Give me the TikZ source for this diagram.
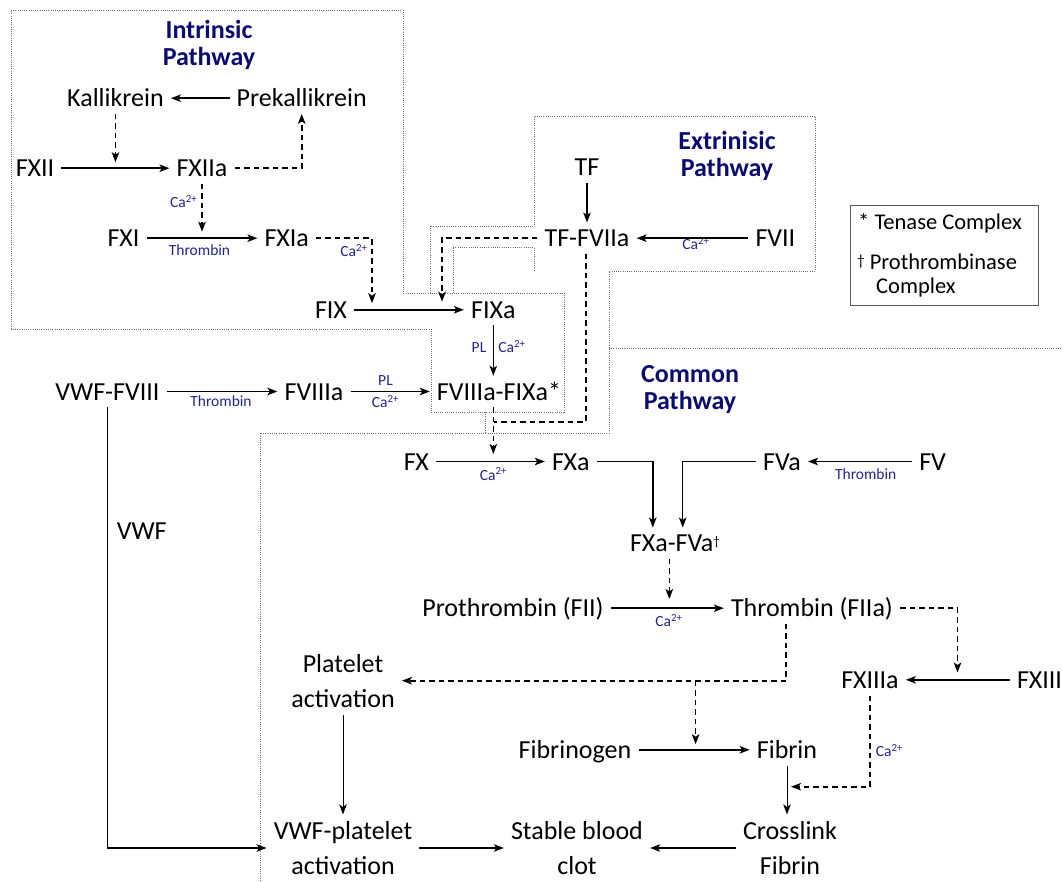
\documentclass[tikz,border=0pt]{standalone}
\usepackage{fontspec}
\setmainfont{Carlito}
\usetikzlibrary{arrows.meta}
\definecolor{navy}{RGB}{12,12,110}
\definecolor{lblue}{RGB}{35,35,140}
\definecolor{dotgray}{RGB}{110,110,110}
\definecolor{leggray}{RGB}{90,90,90}
\begin{document}
\begin{tikzpicture}[x=1pt,y=-1pt,
  every node/.style={inner xsep=7pt,inner ysep=7pt},
  fac/.style={font=\fontsize{26}{27}\selectfont,text height=17pt,text depth=0pt,anchor=base},
  two/.style={font=\fontsize{26}{34.5}\selectfont,align=center},
  ttl/.style={font=\fontsize{26}{27}\selectfont\bfseries,text=navy,align=center},
  tag/.style={font=\fontsize{15.5}{16}\selectfont,text=lblue,inner sep=0pt,anchor=base},
  legtxt/.style={font=\fontsize{22.5}{24}\selectfont,inner sep=0pt,anchor=base west},
  arr/.style={line width=1.5pt,-{Stealth[length=10pt,width=7.5pt,inset=2.5pt]}},
  arrthin/.style={line width=1pt,-{Stealth[length=10pt,width=7.5pt,inset=2.5pt]}},
  dsh/.style={line width=1.6pt,dash pattern=on 5.5pt off 4pt},
  darr/.style={dsh,-{Stealth[length=10pt,width=7.5pt,inset=2.5pt]}},
  region/.style={draw=dotgray,line width=0.8pt,dash pattern=on 0.9pt off 1.3pt},
]
\useasboundingbox (0,0) rectangle (1062,882);

% dotted regions
\draw[region] (11,329) -- (11,10) -- (403,10) -- (403,293) -- (564,293) -- (564,412) -- (431,412) -- (431,329) -- cycle;
\draw[region] (430,293) -- (430,226) -- (534,226) -- (534,116) -- (815,116) -- (815,271) -- (609,271) -- (609,433) -- (260,433) -- (260,882);
\draw[region] (453,293) -- (453,247) -- (534,247) -- (534,271);
\draw[region] (485,412) -- (485,433);
\draw[region] (609,348) -- (1062,348);

% titles
\node[ttl] (intr) at (209,45) {Intrinsic\\Pathway};
\node[ttl] (extr) at (727,156) {Extrinisic\\Pathway};
\node[ttl] (comm) at (690,390) {Common\\Pathway};

% factors
\node[fac] (kal) at (115.5,106.7) {Kallikrein};
\node[fac] (prek) at (301.7,106.7) {Prekallikrein};
\node[fac] (fxii) at (35,176.7) {FXII};
\node[fac] (fxiia) at (202,176.7) {FXIIa};
\node[fac] (fxi) at (123.5,246.7) {FXI};
\node[fac] (fxia) at (286.7,246.7) {FXIa};
\node[fac] (fix) at (331,318.3) {FIX};
\node[fac] (fixa) at (493.3,318.3) {FIXa};
\node[fac] (tf) at (587,176) {TF};
\node[fac] (tf7) at (587,246.7) {TF-FVIIa};
\node[fac] (f7) at (775.4,246.7) {FVII};
\node[fac] (vwf8) at (107.5,400) {VWF-FVIII};
\node[fac] (f8a) at (314,400) {FVIIIa};
\node[fac] (ten) at (499,400) {FVIIIa-FIXa*};
\node[fac] (vwflbl) at (141.7,539) {VWF};
\node[fac] (fx) at (416.4,470) {FX};
\node[fac] (fxa) at (570.8,470) {FXa};
\node[fac] (fva) at (782,470) {FVa};
\node[fac] (fv) at (932.6,470) {FV};
\node[fac] (fxxva) at (675,551.7) {FXa-FVa{\fontsize{13}{13}\selectfont\raisebox{6pt}{†}}};
\node[fac] (pro) at (513,616.7) {Prothrombin (FII)};
\node[fac] (thr) at (812,616.7) {Thrombin (FIIa)};
\node[fac] (f13a) at (870,688.3) {FXIIIa};
\node[fac] (f13) at (1039.5,688.3) {FXIII};
\node[fac] (fgn) at (575,758.3) {Fibrinogen};
\node[fac] (fib) at (787,758.3) {Fibrin};
\node[two] (plt) at (343,681.2) {Platelet\\activation};
\node[two] (vwfp) at (343,848) {VWF-platelet\\activation};
\node[two] (clot) at (577,848) {Stable blood\\clot};
\node[two] (xfib) at (790,848) {Crosslink\\Fibrin};

% legend
\node[draw=leggray,line width=1pt,minimum width=188pt,minimum height=100pt,inner sep=0pt] (legend) at (944,256) {};
\node[legtxt] (leg1) at (858,230) {* Tenase Complex};
\node[legtxt] (leg2) at (857,270) {{\fontsize{15}{15}\selectfont\raisebox{4pt}{†}} Prothrombinase};
\node[legtxt] (leg3) at (876,294) {Complex};

% blue labels
\node[tag] (c1) at (183.7,207.3) {Ca\textsuperscript{2+}};
\node[tag] (t1) at (199.5,255.7) {Thrombin};
\node[tag] (c2) at (354,256.7) {Ca\textsuperscript{2+}};
\node[tag] (p1) at (479,352.3) {PL};
\node[tag] (c3) at (512,352.3) {Ca\textsuperscript{2+}};
\node[tag] (t2) at (221,406.7) {Thrombin};
\node[tag] (p2) at (385.5,385) {PL};
\node[tag] (c4) at (385.5,407.7) {Ca\textsuperscript{2+}};
\node[tag] (c5) at (696,249.3) {Ca\textsuperscript{2+}};
\node[tag] (c6) at (493.4,480) {Ca\textsuperscript{2+}};
\node[tag] (t3) at (865.7,479.3) {Thrombin};
\node[tag] (c7) at (669,626.7) {Ca\textsuperscript{2+}};
\node[tag] (c8) at (889.5,756.7) {Ca\textsuperscript{2+}};

% helper coordinates
\coordinate (jix) at (372,309.7);
\coordinate (jfa) at (442,309.7);
\coordinate (jtv) at (585.7,421.7);
\coordinate (jtn) at (494,421.7);
\coordinate (ina) at (652.8,527);
\coordinate (inb) at (682.7,527);
\coordinate (jp) at (669.3,610);
\coordinate (j13) at (957.5,680.5);
\coordinate (jpl) at (786,680.7);
\coordinate (jbr) at (695.6,680.7);
\coordinate (jfb) at (695.6,751.7);
\coordinate (jxf) at (787,786.7);

% intrinsic
\draw[arr] (prek.west) -- (kal.east);
\draw[darr,shorten >=6pt] (kal.south) -- (kal.south |- fxii.east);
\draw[arr] (fxii.east) -- (fxiia.west);
\draw[darr] (fxiia.east) -| (prek.south);
\draw[darr,shorten >=6.5pt] (fxiia.south) -- (fxiia.south |- fxi.east);
\draw[arr] (fxi.east) -- (fxia.west);
\draw[darr,shorten >=6.5pt] (fxia.east) -| (jix);
\draw[arr] (fix.east) -- (fixa.west);
\draw[arr] (fixa.south) -- (fixa.south |- ten.north);
% VWF / FVIII
\draw[arr] (vwf8.east) -- (f8a.west);
\draw[arr] (f8a.east) -- (ten.west);
\draw[arr] (vwf8.south) |- (vwfp.west);
% extrinsic
\draw[arr] (tf.south) -- (tf.south |- tf7.north);
\draw[arr] (f7.west) -- (tf7.east);
\draw[darr,shorten >=8pt] (tf7.west) -| (jfa);
\draw[dsh] (jtv |- tf7.south) -- (jtv) -- (jtn);
\draw[darr,shorten >=7.5pt] (fixa.south |- ten.south) -- (fixa.south |- fx.east);
% common
\draw[arr] (fx.east) -- (fxa.west);
\draw[arr] (fv.west) -- (fva.east);
\draw[arr] (fxa.east) -| (ina |- fxxva.north);
\draw[arr] (fva.west) -| (inb |- fxxva.north);
\draw[darr,shorten >=11pt] (jp |- fxxva.south) -- (jp);
\draw[arr] (pro.east) -- (thr.west);
\draw[darr,shorten >=8pt] (thr.east) -| (j13);
\draw[arr] (f13.west) -- (f13a.east);
\draw[dsh] (jpl |- thr.south) -- (jpl);
\draw[darr] (jpl) -- (jpl -| plt.east);
\draw[darr,shorten >=7.5pt] (jbr) -- (jfb);
\draw[arr] (fgn.east) -- (fib.west);
\draw[darr,shorten >=4pt] (f13a.south) |- (jxf);
\draw[arrthin] (fib.south) -- (fib.south |- xfib.north);
\draw[arrthin] (plt.south) -- (plt.south |- vwfp.north);
\draw[arr] (xfib.west) -- (clot.east);
\draw[arr] (vwfp.east) -- (clot.west);
\end{tikzpicture}
\end{document}
